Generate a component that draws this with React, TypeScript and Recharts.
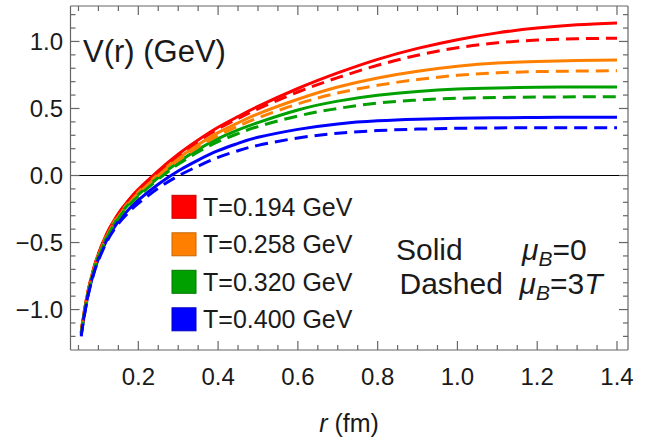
import { LineChart, Line, XAxis, YAxis, ReferenceLine } from "recharts";

// r in fm, V(r) in GeV
const rValues = [
  0.057, 0.06, 0.07, 0.08, 0.09, 0.1, 0.12, 0.14, 0.16, 0.18, 0.2, 0.25, 0.3,
  0.35, 0.4, 0.45, 0.5, 0.6, 0.7, 0.8, 0.9, 1.0, 1.1, 1.2, 1.3, 1.4,
];

const redSolid = [
  -1.17, -1.1, -0.922, -0.784, -0.674, -0.583, -0.44, -0.331, -0.242, -0.168,
  -0.103, 0.035, 0.159, 0.265, 0.36, 0.44, 0.515, 0.649, 0.765, 0.866, 0.948,
  1.013, 1.064, 1.1, 1.124, 1.138,
];
const redDashed = [
  -1.17, -1.1, -0.922, -0.785, -0.675, -0.585, -0.442, -0.333, -0.245, -0.171,
  -0.108, 0.029, 0.151, 0.255, 0.348, 0.425, 0.497, 0.623, 0.73, 0.822, 0.897,
  0.953, 0.99, 1.01, 1.02, 1.024,
];
const orangeSolid = [
  -1.175, -1.105, -0.928, -0.791, -0.682, -0.593, -0.452, -0.344, -0.257,
  -0.185, -0.123, 0.01, 0.129, 0.23, 0.32, 0.393, 0.46, 0.569, 0.66, 0.728,
  0.778, 0.815, 0.839, 0.85, 0.857, 0.861,
];
const orangeDashed = [
  -1.178, -1.109, -0.932, -0.795, -0.687, -0.598, -0.458, -0.352, -0.267,
  -0.196, -0.133, -0.002, 0.114, 0.212, 0.298, 0.368, 0.43, 0.534, 0.615,
  0.673, 0.716, 0.747, 0.766, 0.775, 0.779, 0.781,
];
const greenSolid = [
  -1.18, -1.112, -0.935, -0.8, -0.692, -0.603, -0.464, -0.357, -0.27, -0.2,
  -0.143, -0.015, 0.099, 0.195, 0.275, 0.34, 0.395, 0.489, 0.555, 0.598, 0.627,
  0.645, 0.653, 0.658, 0.66, 0.661,
];
const greenDashed = [
  -1.185, -1.117, -0.941, -0.806, -0.697, -0.608, -0.469, -0.364, -0.279,
  -0.21, -0.153, -0.028, 0.083, 0.175, 0.252, 0.313, 0.365, 0.444, 0.5, 0.54,
  0.563, 0.576, 0.582, 0.585, 0.587, 0.587,
];
const blueSolid = [
  -1.19, -1.125, -0.95, -0.815, -0.708, -0.623, -0.488, -0.385, -0.305, -0.24,
  -0.183, -0.065, 0.034, 0.115, 0.185, 0.24, 0.285, 0.344, 0.385, 0.408, 0.42,
  0.427, 0.431, 0.433, 0.434, 0.434,
];
const blueDashed = [
  -1.2, -1.132, -0.957, -0.822, -0.716, -0.633, -0.5, -0.4, -0.325, -0.262,
  -0.207, -0.095, -0.003, 0.07, 0.135, 0.185, 0.225, 0.28, 0.315, 0.335, 0.346,
  0.352, 0.355, 0.356, 0.357, 0.357,
];

const temperatures = ["0.194", "0.258", "0.320", "0.400"];
const colors = ["#ff0000", "#ff8000", "#00a000", "#0000ff"];
const borders = ["#c80000", "#c86400", "#007800", "#0000c0"];

const xTicks = [
  0.05, 0.1, 0.15, 0.2, 0.25, 0.3, 0.35, 0.4, 0.45, 0.5, 0.55, 0.6, 0.65, 0.7,
  0.75, 0.8, 0.85, 0.9, 0.95, 1.0, 1.05, 1.1, 1.15, 1.2, 1.25, 1.3, 1.35, 1.4,
];
const yTicks = [
  -1.2, -1.1, -1.0, -0.9, -0.8, -0.7, -0.6, -0.5, -0.4, -0.3, -0.2, -0.1, 0.0,
  0.1, 0.2, 0.3, 0.4, 0.5, 0.6, 0.7, 0.8, 0.9, 1.0, 1.1, 1.2,
];

const data = rValues.map((r, i) => ({
  r,
  redSolid: redSolid[i],
  redDashed: redDashed[i],
  orangeSolid: orangeSolid[i],
  orangeDashed: orangeDashed[i],
  greenSolid: greenSolid[i],
  greenDashed: greenDashed[i],
  blueSolid: blueSolid[i],
  blueDashed: blueDashed[i],
}));

const solidKeys = ["redSolid", "orangeSolid", "greenSolid", "blueSolid"];
const dashedKeys = ["redDashed", "orangeDashed", "greenDashed", "blueDashed"];

const FONT = "'Liberation Sans', Arial, sans-serif";
const FRAME = "#666";
const TEXT = "#1a1a1a";

const fmt = (v: number) => {
  const s = Math.abs(v).toFixed(1);
  return v < -1e-9 ? "\u2212" + s : s;
};

const isMajor = (v: number, step: number) =>
  Math.abs(v / step - Math.round(v / step)) < 1e-6;

function YTick(props: any) {
  const { x, y, payload, side } = props;
  const major = isMajor(payload.value, 0.5);
  const dir = side === "left" ? 1 : -1;
  return (
    <g>
      <line x1={x} x2={x + dir * (major ? 9 : 5)} y1={y} y2={y} stroke={FRAME} strokeWidth={1.2} />
      {side === "left" && major && (
        <text x={x - 7.5} y={y + 8.5} textAnchor="end" fontSize={24} fill={TEXT} fontFamily={FONT}>
          {fmt(payload.value)}
        </text>
      )}
    </g>
  );
}

function XTick(props: any) {
  const { x, y, payload, side } = props;
  const major = isMajor(payload.value, 0.2);
  const dir = side === "bottom" ? -1 : 1;
  return (
    <g>
      <line x1={x} x2={x} y1={y} y2={y + dir * (major ? 9 : 5)} stroke={FRAME} strokeWidth={1.2} />
      {side === "bottom" && major && (
        <text x={x} y={y + 35} textAnchor="middle" fontSize={24} fill={TEXT} fontFamily={FONT}>
          {payload.value.toFixed(1)}
        </text>
      )}
    </g>
  );
}

const xDomain = [0.03, 1.4276];
const yDomain = [-1.3016, 1.2644];

const axisCommon = {
  type: "number" as const,
  interval: 0 as const,
  tickSize: 0,
  tickMargin: 0,
  tickLine: false,
  axisLine: { stroke: FRAME, strokeWidth: 1.2 },
  allowDataOverflow: true,
};

export default function App() {
  return (
    <div style={{ position: "absolute", left: 0, top: 0, width: 657, height: 445, background: "#fff" }}>
      <LineChart
        width={657}
        height={445}
        data={data}
        margin={{ top: 0, right: 0, bottom: 0, left: 0 }}
      >
        <XAxis
          {...axisCommon}
          xAxisId="bottom"
          dataKey="r"
          domain={xDomain}
          ticks={xTicks}
          height={95}
          tick={<XTick side="bottom" />}
        />
        <XAxis
          {...axisCommon}
          xAxisId="top"
          orientation="top"
          dataKey="r"
          domain={xDomain}
          ticks={xTicks}
          height={6}
          tick={<XTick side="top" />}
        />
        <YAxis
          {...axisCommon}
          yAxisId="left"
          domain={yDomain}
          ticks={yTicks}
          width={70.5}
          tick={<YTick side="left" />}
        />
        <YAxis
          {...axisCommon}
          yAxisId="right"
          orientation="right"
          domain={yDomain}
          ticks={yTicks}
          width={29}
          tick={<YTick side="right" />}
        />
        <ReferenceLine xAxisId="bottom" yAxisId="left" y={0} stroke="#000" strokeWidth={1} />
        {solidKeys.map((k, i) => (
          <Line
            key={k}
            xAxisId="bottom"
            yAxisId="left"
            type="natural"
            dataKey={k}
            stroke={colors[i]}
            strokeWidth={3}
            dot={false}
            isAnimationActive={false}
          />
        ))}
        {dashedKeys.map((k, i) => (
          <Line
            key={k}
            xAxisId="bottom"
            yAxisId="left"
            type="natural"
            dataKey={k}
            stroke={colors[i]}
            strokeWidth={3}
            strokeDasharray="13 7"
            dot={false}
            isAnimationActive={false}
          />
        ))}
      </LineChart>
      <svg
        width={657}
        height={445}
        style={{ position: "absolute", left: 0, top: 0, pointerEvents: "none" }}
        fontFamily={FONT}
        fill={TEXT}
      >
        <text x={83} y={62} fontSize={31}>V(r) (GeV)</text>
        {temperatures.map((t, i) => (
          <g key={t}>
            <rect
              x={172}
              y={195.3 + i * 37.5}
              width={24}
              height={23}
              fill={colors[i]}
              stroke={borders[i]}
              strokeWidth={1}
            />
            <text x={203} y={215.8 + i * 37.5} fontSize={25}>
              T={t} GeV
            </text>
          </g>
        ))}
        <text x={396} y={259.5} fontSize={30}>Solid</text>
        <text x={522} y={259.5} fontSize={30}>
          <tspan fontStyle="italic">μ</tspan>
          <tspan fontStyle="italic" fontSize={21} dy={6}>B</tspan>
          <tspan dy={-6}>=0</tspan>
        </text>
        <text x={399.5} y={294} fontSize={30}>Dashed</text>
        <text x={519.5} y={294} fontSize={30}>
          <tspan fontStyle="italic">μ</tspan>
          <tspan fontStyle="italic" fontSize={21} dy={6}>B</tspan>
          <tspan dy={-6}>=3</tspan>
          <tspan fontStyle="italic">T</tspan>
        </text>
        <text x={349} y={432} fontSize={25} textAnchor="middle">
          <tspan fontStyle="italic">r</tspan> (fm)
        </text>
      </svg>
    </div>
  );
}
